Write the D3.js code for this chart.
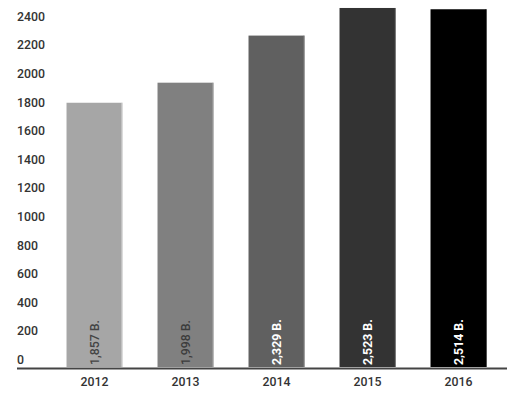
<!DOCTYPE html>
<html><head><meta charset="utf-8">
<script src="https://cdn.jsdelivr.net/npm/d3@7"></script>
<style>body{margin:0;background:#fff}svg{display:block}text{font-family:Roboto,"Noto Sans",sans-serif}</style>
</head><body>
<svg id="c" width="522" height="402"></svg>
<script>
const categories = ["2012","2013","2014","2015","2016"];
const values = [1857, 1998, 2329, 2523, 2514];
const valueLabels = ["1,857 B.","1,998 B.","2,329 B.","2,523 B.","2,514 B."];
const colors = ["#a6a6a6","#808080","#606060","#333333","#000000"];
const labelColors = ["#444444","#3c3c3c","#ffffff","#ffffff","#ffffff"];
const yTicks = [0,200,400,600,800,1000,1200,1400,1600,1800,2000,2200,2400];

const svg = d3.select("#c");
const x = d3.scaleBand().domain(categories).range([49,504]).paddingInner(0.385).paddingOuter(0.1925);
const y = d3.scaleLinear().domain([0,2400]).range([367, 367-2400*0.1423]);
const yLab = d3.scaleLinear().domain([0,2400]).range([364, 20.7]);

// y tick labels
svg.append("g").selectAll("text").data(yTicks).join("text")
  .attr("x",17).attr("y",d=>yLab(d))
  .attr("font-size",12.3).attr("font-weight",500).attr("fill","#333")
  .text(d=>d);

// bars
const g = svg.append("g");
g.selectAll("rect.bar").data(values).join("rect").attr("class","bar")
  .attr("x",(d,i)=>x(categories[i])).attr("width",x.bandwidth())
  .attr("y",d=>y(d)).attr("height",d=>y(0)-y(d))
  .attr("fill",(d,i)=>colors[i]);
// light right edge
g.selectAll("rect.edge").data(values).join("rect").attr("class","edge")
  .attr("x",(d,i)=>x(categories[i])+x.bandwidth()-1).attr("width",1)
  .attr("y",d=>y(d)).attr("height",d=>y(0)-y(d))
  .attr("fill",(d,i)=>d3.color(colors[i]).brighter(0.9)).attr("opacity",0.8);

// value labels
g.selectAll("text.val").data(values).join("text").attr("class","val")
  .attr("transform",(d,i)=>`translate(${x(categories[i])+x.bandwidth()/2+4},365) rotate(-90)`)
  .attr("font-size",12.3).attr("font-weight",(d,i)=>i>=2?700:500)
  .attr("fill",(d,i)=>labelColors[i])
  .text((d,i)=>valueLabels[i]);

// axis line
svg.append("line").attr("x1",17).attr("x2",507).attr("y1",368.5).attr("y2",368.5)
  .attr("stroke","#444").attr("stroke-width",2);

// x labels
svg.append("g").selectAll("text").data(categories).join("text")
  .attr("x",d=>x(d)+x.bandwidth()/2).attr("y",385.7).attr("text-anchor","middle")
  .attr("font-size",12.3).attr("font-weight",500).attr("fill","#333")
  .text(d=>d);
</script>
</body></html>
